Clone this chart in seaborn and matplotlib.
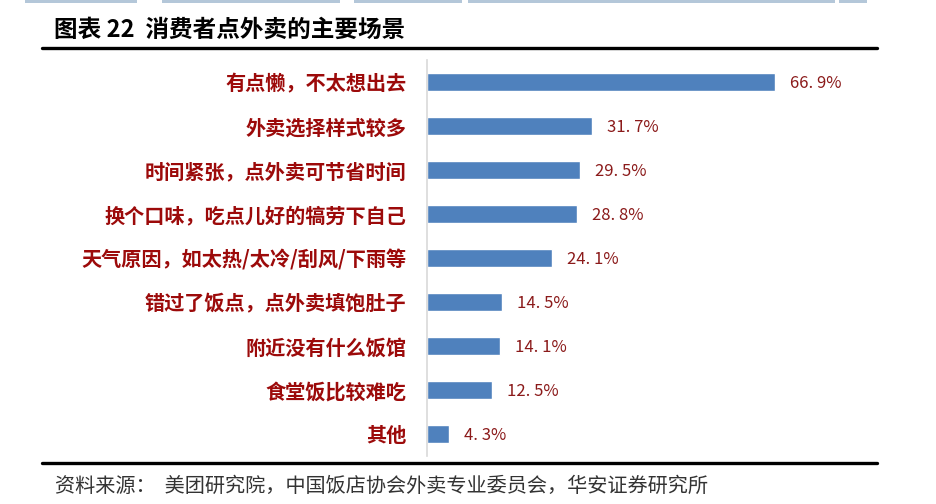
import matplotlib
matplotlib.use("Agg")
import matplotlib.pyplot as plt
import seaborn as sns
import pandas as pd
from matplotlib.lines import Line2D
from matplotlib.patches import Rectangle

categories = ["有点懒，不太想出去", "外卖选择样式较多", "时间紧张，点外卖可节省时间",
              "换个口味，吃点儿好的犒劳下自己", "天气原因，如太热/太冷/刮风/下雨等",
              "错过了饭点，点外卖填饱肚子", "附近没有什么饭馆", "食堂饭比较难吃", "其他"]
values = [66.9, 31.7, 29.5, 28.8, 24.1, 14.5, 14.1, 12.5, 4.3]
value_labels = ["66.9%", "31.7%", "29.5%", "28.8%", "24.1%", "14.5%", "14.1%", "12.5%", "4.3%"]
title = "图表 22  消费者点外卖的主要场景"
source = "资料来源：  美团研究院，中国饭店协会外卖专业委员会，华安证券研究所"

sns.set_theme(style="white")
plt.rcParams['font.family'] = ['Noto Sans CJK SC', 'DejaVu Sans']

df = pd.DataFrame({"cat": categories, "val": values})

W, H = 936, 504
fig = plt.figure(figsize=(W / 100, H / 100), dpi=100)
ax = fig.add_axes([427 / W, 1 - 456 / H, (870 - 427) / W, 396 / H])

sns.barplot(data=df, x="val", y="cat", ax=ax, color="#4F81BD", width=0.39,
            saturation=1, orient="h")
ax.set_xlim(0, (870 - 427) / 5.2)
ax.set_ylim(8.5, -0.5)
ax.set_xlabel("")
ax.set_ylabel("")
ax.set_xticks([])
ax.tick_params(axis="y", length=0, pad=15)
for lab in ax.get_yticklabels():
    lab.set_color("#9C0A0A")
    lab.set_fontweight("bold")
    lab.set_fontsize(14.5)
for s in ["top", "right", "bottom"]:
    ax.spines[s].set_visible(False)
ax.spines["left"].set_color("#D9D9D9")
ax.spines["left"].set_linewidth(1.2)

for i, (v, t) in enumerate(zip(values, value_labels)):
    ax.text(v + 2.9, i + 0.03, t.replace(".", ". "), va="center", ha="left",
            color="#8B1A1A", fontsize=12)

# decorative top strip
for x0, x1 in [(25, 137), (162, 340), (354, 462), (468, 835), (839, 867)]:
    fig.add_artist(Rectangle((x0 / W, 1 - 3 / H), (x1 - x0) / W, 3 / H,
                             transform=fig.transFigure, color="#B4C7D9", lw=0))

fig.text(54 / W, 1 - 30 / H, title, fontsize=17, fontweight="bold", va="center",
         ha="left", color="black")
fig.add_artist(Line2D([42 / W, 877 / W], [1 - 48 / H, 1 - 48 / H], color="black", lw=2.4,
                      transform=fig.transFigure))
fig.add_artist(Line2D([42 / W, 877 / W], [1 - 463 / H, 1 - 463 / H], color="black", lw=2.4,
                      transform=fig.transFigure))
fig.text(55 / W, 1 - 486 / H, source, fontsize=14.5, va="center", ha="left", color="#333333")

fig.savefig("out.png", dpi=100)
